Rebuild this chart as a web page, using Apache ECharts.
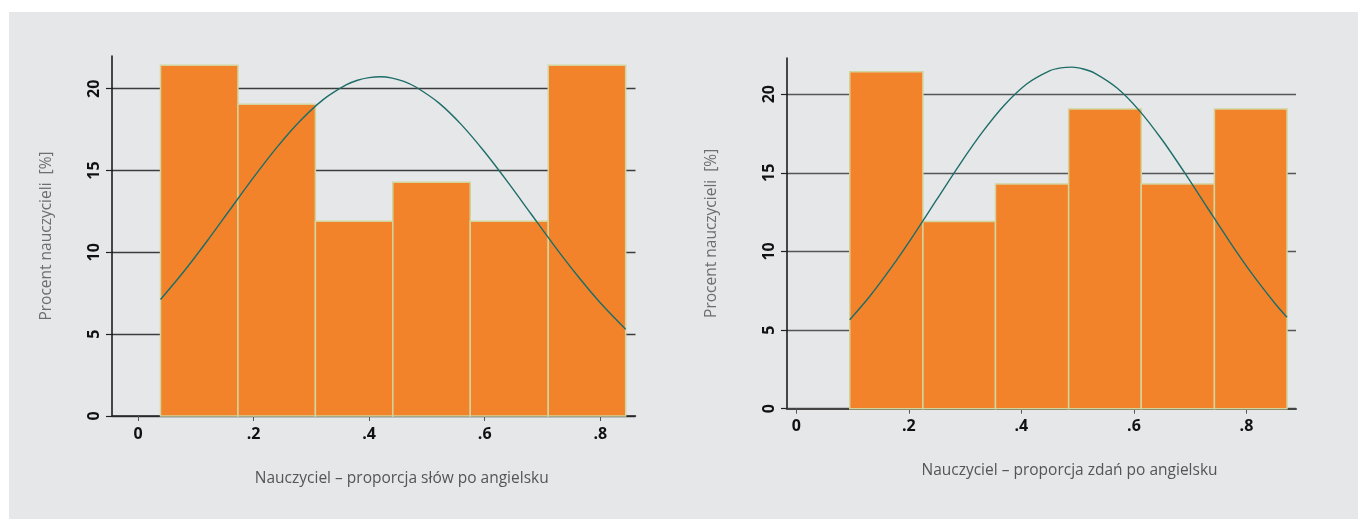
<!DOCTYPE html>
<html><head><meta charset="utf-8">
<script src="https://cdn.jsdelivr.net/npm/echarts@6/dist/echarts.min.js"></script>
<style>
html,body{margin:0;padding:0;background:#fff;width:1365px;height:519px;overflow:hidden;}
#bg{position:absolute;left:9px;top:12px;width:1349px;height:507px;background:#e6e7e8;}
#chart{position:absolute;left:0;top:0;width:1365px;height:519px;}
</style></head><body>
<div id="bg"></div><div id="chart"></div>
<script>
// ---- data ----
const yTicks = [0, 5, 10, 15, 20];
const xTicks = [0, 0.2, 0.4, 0.6, 0.8];
const xTickLabels = ['0', '.2', '.4', '.6', '.8'];

const leftTitleX = 'Nauczyciel – proporcja słów po angielsku';
const rightTitleX = 'Nauczyciel – proporcja zdań po angielsku';
const yTitle = 'Procent nauczycieli  [%]';

const leftEdges = [0.039, 0.173, 0.307, 0.441, 0.575, 0.710, 0.844];
const leftPercent = [21.43, 19.05, 11.90, 14.29, 11.90, 21.43];
const leftCurveX = [0.039, 0.08, 0.12, 0.16, 0.20, 0.24, 0.28, 0.32, 0.36, 0.38, 0.40, 0.42, 0.44, 0.46, 0.48, 0.52, 0.56, 0.60, 0.64, 0.68, 0.72, 0.76, 0.80, 0.844];
const leftCurveY = [7.12, 8.86, 10.71, 12.65, 14.58, 16.40, 18.01, 19.32, 20.23, 20.52, 20.68, 20.73, 20.65, 20.45, 20.12, 19.15, 17.79, 16.13, 14.29, 12.36, 10.43, 8.60, 6.92, 5.30];

const rightEdges = [0.095, 0.225, 0.354, 0.484, 0.613, 0.743, 0.872];
const rightPercent = [21.43, 11.90, 14.29, 19.05, 14.29, 19.05];
const rightCurveX = [0.095, 0.13, 0.17, 0.21, 0.25, 0.29, 0.33, 0.37, 0.41, 0.45, 0.47, 0.49, 0.51, 0.53, 0.57, 0.61, 0.65, 0.69, 0.73, 0.77, 0.81, 0.85, 0.872];
const rightCurveY = [5.66, 7.12, 9.03, 11.12, 13.32, 15.51, 17.55, 19.31, 20.66, 21.48, 21.67, 21.72, 21.60, 21.34, 20.39, 18.94, 17.10, 15.01, 12.81, 10.63, 8.57, 6.72, 5.81];

// ---- build ----
const BAR_FILL = '#F2832B';
const BAR_EDGE = '#d3d39c';
const CURVE = '#1d6d69';
const FONT = '"Open Sans", "Noto Sans", sans-serif';

function bins(edges, vals) {
  return vals.map((v, i) => [edges[i], edges[i + 1], v]);
}
function pts(xs, ys) { return xs.map((x, i) => [x, ys[i]]); }

function renderBar(params, api) {
  const x0 = api.value(0), x1 = api.value(1), h = api.value(2);
  const p0 = api.coord([x0, h]);
  const p1 = api.coord([x1, 0]);
  return {
    type: 'rect',
    shape: { x: p0[0], y: p0[1], width: p1[0] - p0[0], height: p1[1] - p0[1] },
    style: { fill: BAR_FILL, stroke: BAR_EDGE, lineWidth: 1.5 }
  };
}

function xAxisCfg(idx, min, max, name, gap, lineColor, lineWidth) {
  return {
    type: 'value', gridIndex: idx, min: min, max: max,
    name: name, nameLocation: 'middle', nameGap: gap,
    nameTextStyle: { color: '#555', fontSize: 15.5, fontFamily: FONT, padding: [0, 0, 0, 56] },
    axisLine: { onZero: false, lineStyle: { color: lineColor, width: lineWidth } },
    axisTick: { show: true, length: 5, customValues: xTicks, lineStyle: { color: '#555', width: 1 } },
    axisLabel: {
      customValues: xTicks, margin: 10,
      formatter: v => xTickLabels[xTicks.indexOf(Math.round(v * 10) / 10)] || '',
      color: '#111', fontSize: 16, fontWeight: 'bold', fontFamily: FONT
    },
    splitLine: { show: false }
  };
}
function yAxisCfg(idx, max, gap, gridColor) {
  return {
    type: 'value', gridIndex: idx, min: 0, max: max,
    name: yTitle, nameLocation: 'middle', nameGap: gap,
    nameTextStyle: { color: '#6e6e6e', fontSize: 15.5, fontFamily: FONT },
    axisLine: { show: true, onZero: false, lineStyle: { color: '#111', width: 1.5 } },
    axisTick: { show: true, length: 6, customValues: yTicks, lineStyle: { color: '#222', width: 1.2 } },
    axisLabel: {
      customValues: yTicks, rotate: 90, margin: 10,
      color: '#111', fontSize: 16, fontWeight: 'bold', fontFamily: FONT
    },
    splitLine: {
      show: true,
      lineStyle: { color: [gridColor, gridColor, gridColor, gridColor, gridColor, 'rgba(0,0,0,0)'], width: 1.3 }
    }
  };
}

const option = {
  animation: false,
  backgroundColor: 'transparent',
  grid: [
    { left: 112, top: 56, width: 523.5, height: 360 },
    { left: 787, top: 58, width: 509, height: 350.7 }
  ],
  xAxis: [
    xAxisCfg(0, -0.045, 0.861, leftTitleX, 55, '#222', 1.5),
    xAxisCfg(1, -0.0165, 0.888, rightTitleX, 54, '#444', 2)
  ],
  yAxis: [
    yAxisCfg(0, 22, 57, '#3c3c3c'),
    yAxisCfg(1, 22.3, 67, '#555')
  ],
  series: [
    { type: 'custom', xAxisIndex: 0, yAxisIndex: 0, renderItem: renderBar, data: bins(leftEdges, leftPercent), encode: { x: [0, 1], y: 2 }, z: 2 },
    { type: 'line', xAxisIndex: 0, yAxisIndex: 0, data: pts(leftCurveX, leftCurveY), smooth: 0.3, showSymbol: false, symbol: 'none', lineStyle: { color: CURVE, width: 1.4 }, z: 3 },
    { type: 'custom', xAxisIndex: 1, yAxisIndex: 1, renderItem: renderBar, data: bins(rightEdges, rightPercent), encode: { x: [0, 1], y: 2 }, z: 2 },
    { type: 'line', xAxisIndex: 1, yAxisIndex: 1, data: pts(rightCurveX, rightCurveY), smooth: 0.3, showSymbol: false, symbol: 'none', lineStyle: { color: CURVE, width: 1.4 }, z: 3 }
  ]
};
const chart = echarts.init(document.getElementById('chart'), null, { renderer: 'canvas' });
chart.setOption(option);
</script>
</body></html>
